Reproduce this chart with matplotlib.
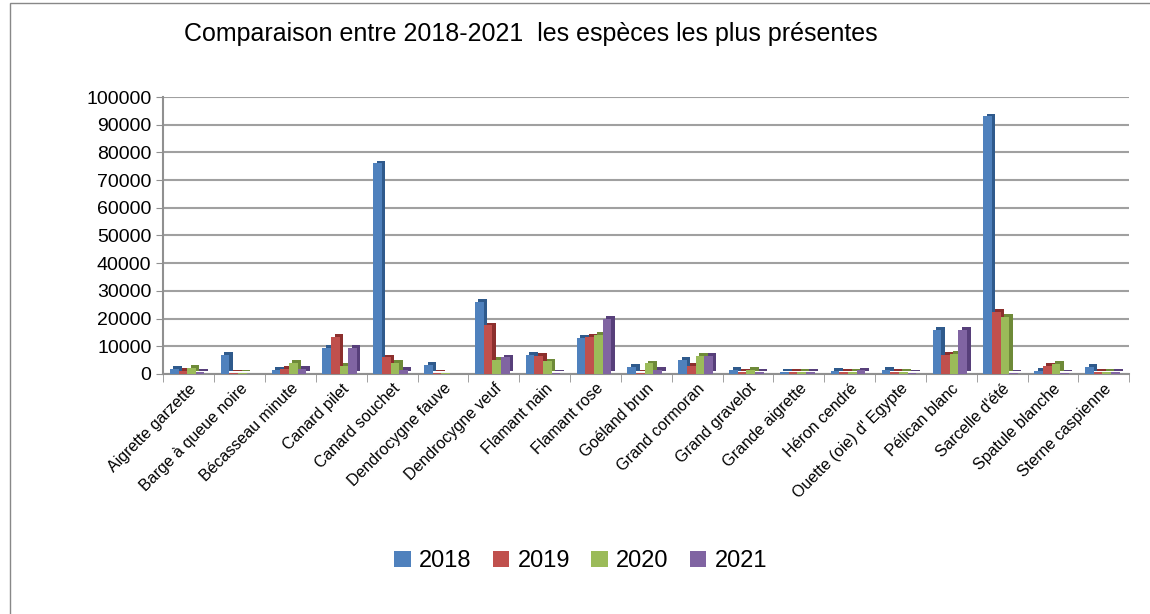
import numpy as np
import matplotlib.pyplot as plt
import matplotlib.patheffects as pe
from matplotlib.patches import Rectangle, Patch

plt.rcParams['font.family'] = ['Liberation Sans', 'DejaVu Sans']

species = ["Aigrette garzette", "Barge à queue noire", "Bécasseau minute", "Canard pilet",
           "Canard souchet", "Dendrocygne fauve", "Dendrocygne veuf", "Flamant nain",
           "Flamant rose", "Goéland brun", "Grand cormoran", "Grand gravelot",
           "Grande aigrette", "Héron cendré", "Ouette (oie) d' Egypte", "Pélican blanc",
           "Sarcelle d'été", "Spatule blanche", "Sterne caspienne"]

v2018 = [1800, 7000, 1500, 9500, 76000, 3200, 26000, 7000, 13000, 2500, 5000, 1500, 800, 1200, 1500, 15800, 93000, 1000, 2500]
v2019 = [1000, 400, 1800, 13500, 6000, 300, 17500, 6500, 13500, 500, 3000, 800, 700, 800, 800, 7000, 22500, 3000, 800]
v2020 = [2200, 300, 4000, 3000, 4000, 200, 5000, 4500, 14000, 3800, 6500, 1500, 700, 700, 700, 7200, 20500, 3500, 800]
v2021 = [700, 100, 1800, 9500, 1500, 0, 6000, 300, 20000, 1500, 6500, 800, 800, 1300, 300, 16000, 500, 500, 800]

years = ["2018", "2019", "2020", "2021"]
series = [v2018, v2019, v2020, v2021]
colors = ["#4F81BD", "#C0504D", "#9BBB59", "#8064A2"]
shades = ["#2F5A8C", "#8C2F2D", "#6E8A38", "#573F7A"]

fig = plt.figure(figsize=(11.5, 6.14), dpi=100)
ax = fig.add_axes([0.142, 0.391, 0.84, 0.451])

x = np.arange(len(species))
w = 0.17
for i, (vals, c, s) in enumerate(zip(series, colors, shades)):
    bars = ax.bar(x + (i - 1.5) * w - 0.03, vals, w, color=c, zorder=3)
    for b in bars:
        b.set_path_effects([pe.SimplePatchShadow(offset=(2.5, 2), shadow_rgbFace=s, alpha=1.0), pe.Normal()])

ax.set_xlim(-0.5, len(species) - 0.5)
ax.set_ylim(0, 100000)
ax.set_yticks(range(0, 100001, 10000))
ax.yaxis.grid(True, color="#A0A0A0", linewidth=1.5, zorder=0)
ax.set_axisbelow(True)
for sp in ["top", "right"]:
    ax.spines[sp].set_visible(False)
ax.spines["left"].set_color("#909090")
ax.spines["bottom"].set_color("#909090")
ax.spines["left"].set_linewidth(1.5)
ax.spines["bottom"].set_linewidth(1.5)
ax.tick_params(axis="y", labelsize=14, color="#909090", length=5)
ax.set_xticks(x)
ax.set_xticklabels(species, rotation=45, ha="right", rotation_mode="anchor", fontsize=11.5)
ax.tick_params(axis="x", length=0, pad=5)
ax.set_xticks(np.arange(-0.5, len(species), 1), minor=True)
ax.tick_params(axis="x", which="minor", length=6, color="#909090")

fig.text(0.462, 0.945, "Comparaison entre 2018-2021  les espèces les plus présentes",
         ha="center", va="center", fontsize=18)

handles = [Patch(facecolor=c) for c in colors]
fig.legend(handles, years, loc="center", bbox_to_anchor=(0.505, 0.086), ncol=4, fontsize=17,
           frameon=False, handlelength=0.7, handleheight=0.7, handletextpad=0.35, columnspacing=0.9)

fig.patches.append(Rectangle((0.009, -0.02), 1.2, 1.015, transform=fig.transFigure,
                             fill=False, edgecolor="#888888", linewidth=1))

fig.savefig("out.png", dpi=100)
